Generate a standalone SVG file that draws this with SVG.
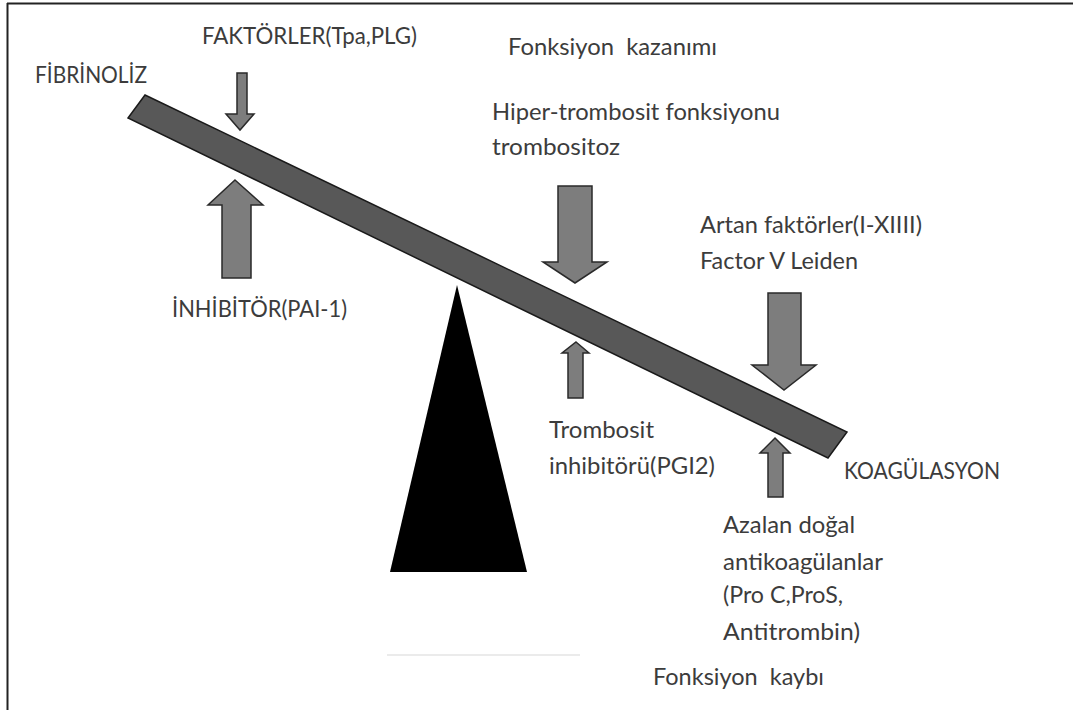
<svg xmlns="http://www.w3.org/2000/svg" width="1073" height="710" viewBox="0 0 1073 710">
<style>
.t{font-family:Lato,"Open Sans","Liberation Sans",sans-serif;font-size:23px;fill:#3c3c3c;white-space:pre}
.arr{fill:#7d7d7d;stroke:#2a2a2a;stroke-width:1.5;stroke-linejoin:miter}
</style>
<rect width="1073" height="710" fill="#ffffff"/>
<g id="frame">
<line x1="7" y1="3.5" x2="1073" y2="3.5" stroke="#222" stroke-width="2"/>
<line x1="7.5" y1="3" x2="7.5" y2="710" stroke="#222" stroke-width="2"/>
<line x1="387" y1="655" x2="580" y2="655" stroke="#e4e4e4" stroke-width="1.5"/>
</g>
<g id="fulcrum"><polygon points="457,285 527,572 390,572" fill="#000"/></g>
<g id="beam"><polygon points="145,95 847,432 828,458 128,118" fill="#585858" stroke="#1a1a1a" stroke-width="1.5"/></g>
<g id="connectors">
<polygon id="a1" class="arr" points="237,73 247,73 247,114 254,114 240,130 226,114 237,114"/>
<polygon id="a2" class="arr" points="235,180 263,205 251,205 251,278 222,278 222,205 208,205"/>
<polygon id="a3" class="arr" points="558,186 592,186 592,262 607,262 575,283 543,262 558,262"/>
<polygon id="a4" class="arr" points="576,342 589,353 583,353 583,398 568,398 568,353 562,353"/>
<polygon id="a5" class="arr" points="768,293 801,293 801,365 816,365 784,390 752,365 768,365"/>
<polygon id="a6" class="arr" points="775,438 790,453 783,453 783,497 768,497 768,453 760,453"/>
</g>
<g id="n-fibrinoliz"><text class="t" x="35" y="83" textLength="112" lengthAdjust="spacingAndGlyphs">FİBRİNOLİZ</text></g>
<g id="n-faktorler"><text class="t" x="202" y="44" textLength="215" lengthAdjust="spacingAndGlyphs">FAKTÖRLER(Tpa,PLG)</text></g>
<g id="n-kazanim"><text class="t" x="508" y="55" textLength="209" lengthAdjust="spacingAndGlyphs">Fonksiyon  kazanımı</text></g>
<g id="n-hiper">
<text class="t" x="492" y="120" textLength="288" lengthAdjust="spacingAndGlyphs">Hiper-trombosit fonksiyonu</text>
<text class="t" x="492" y="155" textLength="128" lengthAdjust="spacingAndGlyphs">trombositoz</text>
</g>
<g id="n-artan">
<text class="t" x="700" y="233" textLength="222" lengthAdjust="spacingAndGlyphs">Artan faktörler(I-XIIII)</text>
<text class="t" x="700" y="269" textLength="158" lengthAdjust="spacingAndGlyphs">Factor V Leiden</text>
</g>
<g id="n-inhibitor"><text class="t" x="172" y="317" textLength="175" lengthAdjust="spacingAndGlyphs">İNHİBİTÖR(PAI-1)</text></g>
<g id="n-trombosit">
<text class="t" x="549" y="438" textLength="105" lengthAdjust="spacingAndGlyphs">Trombosit</text>
<text class="t" x="549" y="474" textLength="166" lengthAdjust="spacingAndGlyphs">inhibitörü(PGI2)</text>
</g>
<g id="n-koag"><text class="t" x="844" y="479" textLength="156" lengthAdjust="spacingAndGlyphs">KOAGÜLASYON</text></g>
<g id="n-azalan">
<text class="t" x="723" y="533" textLength="132" lengthAdjust="spacingAndGlyphs">Azalan doğal</text>
<text class="t" x="723" y="570" textLength="160" lengthAdjust="spacingAndGlyphs">antikoagülanlar</text>
<text class="t" x="723" y="603" textLength="120" lengthAdjust="spacingAndGlyphs">(Pro C,ProS,</text>
<text class="t" x="723" y="640" textLength="137" lengthAdjust="spacingAndGlyphs">Antitrombin)</text>
</g>
<g id="n-kayip"><text class="t" x="653" y="685" textLength="171" lengthAdjust="spacingAndGlyphs">Fonksiyon  kaybı</text></g>
</svg>
